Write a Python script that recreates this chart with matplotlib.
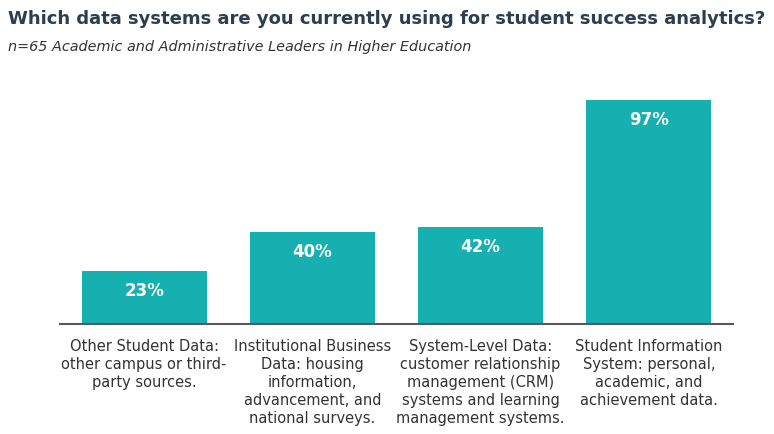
import matplotlib
matplotlib.use("Agg")
import matplotlib.pyplot as plt

categories = [
    "Other Student Data:\nother campus or third-\nparty sources.",
    "Institutional Business\nData: housing\ninformation,\nadvancement, and\nnational surveys.",
    "System-Level Data:\ncustomer relationship\nmanagement (CRM)\nsystems and learning\nmanagement systems.",
    "Student Information\nSystem: personal,\nacademic, and\nachievement data.",
]
values = [23, 40, 42, 97]

title = "Which data systems are you currently using for student success analytics?"
subtitle = "n=65 Academic and Administrative Leaders in Higher Education"

bar_color = "#17B0B0"
plt.rcParams['font.family'] = ['DejaVu Sans']

fig = plt.figure(figsize=(7.74, 4.35), dpi=100)
ax = fig.add_axes([60/774, 1-325/435, 673/774, (325-94)/435])
x = list(range(len(values)))
ax.bar(x, values, width=0.744, color=bar_color)
ax.set_xlim(-0.5, 3.5)
ax.set_ylim(0, 100)
for xi, v in zip(x, values):
    ax.annotate(f"{v}%", (xi, v), xytext=(0, -19), textcoords="offset pixels",
                ha="center", va="center", color="white", fontsize=12, fontweight="bold")
for s in ["top", "right", "left"]:
    ax.spines[s].set_visible(False)
ax.spines["bottom"].set_color("#555a60")
ax.spines["bottom"].set_linewidth(1.5)
ax.set_yticks([])
ax.set_xticks(x)
ax.set_xticklabels(categories, fontsize=10.5, color="#333333", linespacing=1.25)
ax.tick_params(axis="x", length=0, pad=10)

fig.text(8/774, 1-19/435, title, fontsize=13, fontweight="bold", color="#2C3E50", va="center", ha="left")
fig.text(8/774, 1-47/435, subtitle, fontsize=10.4, style="italic", color="#333333", va="center", ha="left")

fig.savefig("out.png", dpi=100)
